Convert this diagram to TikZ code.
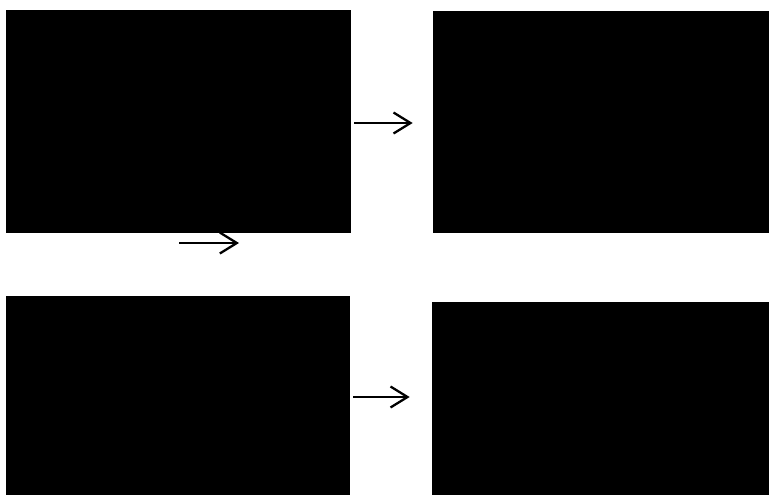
\documentclass[tikz,border=0pt]{standalone}
\usepackage{tikz}
\usetikzlibrary{arrows, arrows.meta, positioning}
\tikzstyle{panel} = [rectangle, inner sep=0pt, draw=none, fill=black]
\tikzstyle{arrow} = [line width=1.3pt, -{Straight Barb[length=0.34cm, width=0.42cm, line width=1.3pt]}]

\begin{document}
\begin{tikzpicture}[x=0.02cm, y=-0.02cm]
    \useasboundingbox (0,0) rectangle (769,495);
    \node (topleft) [panel, minimum width=6.9cm, minimum height=4.46cm] at (178.5,121.5) {};
    \node (topright) [panel, minimum width=6.72cm, minimum height=4.44cm] at (601,122) {};
    \node (botleft) [panel, minimum width=6.88cm, minimum height=3.98cm] at (178,395.5) {};
    \node (botright) [panel, minimum width=6.74cm, minimum height=3.86cm] at (600.5,398.5) {};
    \coordinate (midstart) at (179,243);
    \coordinate (midend) at (239,243);

    \draw [arrow] ([xshift=0.06cm, yshift=-0.03cm]topleft.east) -- ([xshift=-0.4cm, yshift=-0.03cm]topleft.east -| topright.west);
    \draw [arrow] (midstart) -- (midend);
    \draw [arrow] ([xshift=0.06cm, yshift=-0.03cm]botleft.east) -- ([xshift=-0.44cm, yshift=-0.03cm]botleft.east -| botright.west);
\end{tikzpicture}
\end{document}
